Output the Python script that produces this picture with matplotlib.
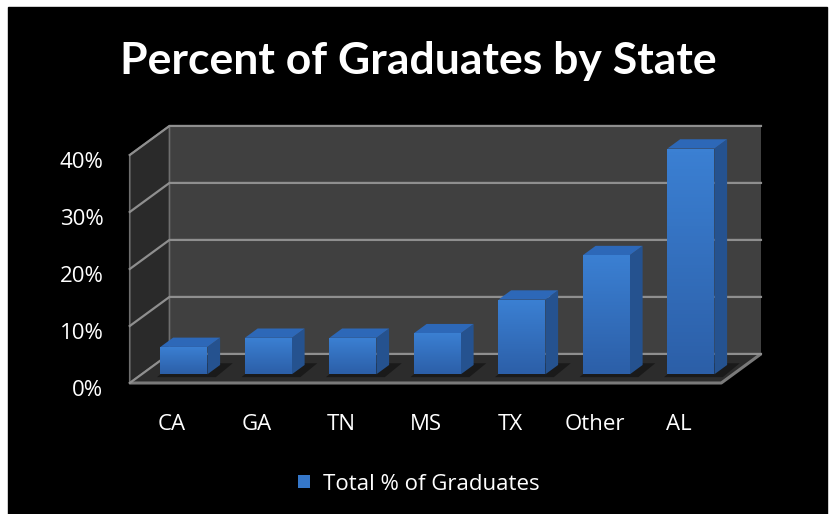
import numpy as np
import matplotlib
matplotlib.use("Agg")
import matplotlib.pyplot as plt
from matplotlib.patches import Polygon, Rectangle
from matplotlib.transforms import ScaledTranslation

states = ["CA", "GA", "TN", "MS", "TX", "Other", "AL"]
pct = [4.8, 6.4, 6.4, 7.2, 13.1, 20.9, 39.6]
yticks = [0, 10, 20, 30, 40]
ytick_labels = ["0%", "10%", "20%", "30%", "40%"]
series_name = "Total % of Graduates"
title = "Percent of Graduates by State"

plt.rcParams["font.family"] = ["Open Sans", "DejaVu Sans"]

# fake 3d: depth offset of the back plane, in data units
DX, DY = 0.47, 5.1
BAR_Z0, BAR_Z1 = 0.3, 0.62
BAR_W = 0.556
YMAX = 40

fig = plt.figure(figsize=(8.31, 5.14), dpi=100, facecolor="white")
fig.patches.append(Rectangle((8 / 831, 0), 819 / 831, 507 / 514,
                             transform=fig.transFigure, color="black", zorder=-1))

ax = fig.add_axes([129.75 / 831, 131 / 514, 591.5 / 831, 228 / 514])
ax.set_xlim(-0.5, len(states) - 0.5)
ax.set_ylim(0, YMAX)
ax.patch.set_visible(False)
for s in ax.spines.values():
    s.set_visible(False)

x0, x1 = -0.5, len(states) - 0.5
grid_c = "#8f8f8f"

# back wall
ax.add_patch(Rectangle((x0 + DX, DY), x1 - x0, YMAX, facecolor="#404040",
                       edgecolor="none", clip_on=False, zorder=1))
# left side wall
ax.add_patch(Polygon([(x0, 0), (x0, YMAX), (x0 + DX, YMAX + DY), (x0 + DX, DY)],
                     closed=True, facecolor="#2a2a2a", edgecolor="#6e6e6e",
                     lw=1.2, clip_on=False, zorder=1))
# floor
ax.add_patch(Polygon([(x0, 0), (x1, 0), (x1 + DX, DY), (x0 + DX, DY)],
                     closed=True, facecolor="#2c2c2c", edgecolor="none",
                     clip_on=False, zorder=2))
ax.plot([x0, x1, x1 + DX], [0, 0, DY], color="#7a7a7a", lw=2.2,
        clip_on=False, zorder=2, solid_capstyle="butt")

# gridlines on the walls
for t in yticks:
    ax.plot([x0, x0 + DX, x1 + DX], [t, t + DY, t + DY], color=grid_c, lw=1.6,
            clip_on=False, zorder=2)

xs = np.arange(len(states))
fx = xs + BAR_Z0 * DX - BAR_W / 2
fy = BAR_Z0 * DY
ddx = (BAR_Z1 - BAR_Z0) * DX
ddy = (BAR_Z1 - BAR_Z0) * DY

# floor shadows
for x, v in zip(fx, pct):
    ax.add_patch(Polygon([(x - 0.04, fy - 0.5), (x + BAR_W + 0.1, fy - 0.5),
                          (x + BAR_W + ddx + 0.15, fy + ddy + 0.3),
                          (x + ddx, fy + ddy + 0.3)],
                         closed=True, facecolor="#1a1a1a", edgecolor="none",
                         clip_on=False, zorder=3))

bars = ax.bar(fx, pct, width=BAR_W, bottom=fy, align="edge", color="#3577c9",
              edgecolor="none", zorder=5, label=series_name, clip_on=False)

grad = np.linspace(0, 1, 64).reshape(-1, 1)
cmap = matplotlib.colors.LinearSegmentedColormap.from_list(
    "bar", ["#2c5fa8", "#3b80d3"])
for rect, x, v in zip(bars, fx, pct):
    im = ax.imshow(grad, cmap=cmap, origin="lower", aspect="auto",
                   extent=(x, x + BAR_W, fy, fy + v), zorder=5.5)
    im.set_clip_path(rect)
    # side face
    ax.add_patch(Polygon([(x + BAR_W, fy), (x + BAR_W, fy + v),
                          (x + BAR_W + ddx, fy + v + ddy), (x + BAR_W + ddx, fy + ddy)],
                         closed=True, facecolor="#25528f", edgecolor="none",
                         clip_on=False, zorder=5))
    # top face
    ax.add_patch(Polygon([(x, fy + v), (x + BAR_W, fy + v),
                          (x + BAR_W + ddx, fy + v + ddy), (x + ddx, fy + v + ddy)],
                         closed=True, facecolor="#2d68b8", edgecolor="none",
                         clip_on=False, zorder=5))

ax.set_xlim(-0.5, len(states) - 0.5)
ax.set_ylim(0, YMAX)

ax.set_yticks(yticks)
ax.set_yticklabels(ytick_labels)
ax.set_xticks(xs)
ax.set_xticklabels(states)
ax.tick_params(axis="both", length=0, colors="white", labelsize=16)
ax.tick_params(axis="y", pad=19)
ax.tick_params(axis="x", pad=22)
shift = ScaledTranslation(0, -0.05, fig.dpi_scale_trans)
for lab in ax.get_yticklabels():
    lab.set_transform(lab.get_transform() + shift)

fig.text(418.5 / 831, 1 - 74 / 514, title, ha="center", va="baseline",
         color="white", fontsize=32, fontweight="bold", family=["Lato", "DejaVu Sans"])

leg = fig.legend(handles=[bars], labels=[series_name], loc="center",
                 bbox_to_anchor=(419 / 831, 1 - 484 / 514), frameon=False,
                 fontsize=16, labelcolor="white", handlelength=0.55,
                 handleheight=0.55, handletextpad=0.6)

fig.savefig("out.png", dpi=100, facecolor="white")
